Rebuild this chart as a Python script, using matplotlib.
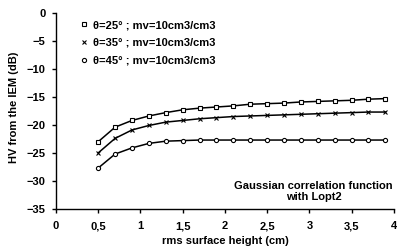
import matplotlib

matplotlib.use("Agg")
from matplotlib import pyplot as plt
from matplotlib.ticker import FuncFormatter

rms_height = [0.5, 0.7, 0.9, 1.1, 1.3, 1.5, 1.7, 1.9, 2.1, 2.3,
              2.5, 2.7, 2.9, 3.1, 3.3, 3.5, 3.7, 3.9]
hv_25 = [-23.0, -20.4, -19.2, -18.4, -17.8, -17.3, -17.0, -16.8, -16.6, -16.3,
         -16.2, -16.1, -15.9, -15.8, -15.7, -15.6, -15.4, -15.3]
hv_35 = [-25.0, -22.4, -20.9, -20.1, -19.5, -19.2, -18.9, -18.7, -18.5, -18.4,
         -18.3, -18.2, -18.1, -18.0, -17.9, -17.8, -17.7, -17.7]
hv_45 = [-27.7, -25.2, -24.1, -23.3, -22.9, -22.8, -22.7, -22.7, -22.7, -22.7,
         -22.7, -22.7, -22.7, -22.7, -22.7, -22.7, -22.7, -22.7]
labels = ["θ=25° ; mv=10cm3/cm3", "θ=35° ; mv=10cm3/cm3", "θ=45° ; mv=10cm3/cm3"]

plt.rcParams["font.family"] = ["Liberation Sans", "DejaVu Sans"]
plt.rcParams["font.weight"] = "bold"
plt.rcParams["font.size"] = 8

fig = plt.figure(figsize=(3.97, 2.49), dpi=100)
ax = fig.add_axes([0.141, 0.161, 0.851, 0.787])

styles = [("s", hv_25), ("x", hv_35), ("o", hv_45)]
for (marker, values), label in zip(styles, labels):
    ax.plot(rms_height, values, color="black", lw=1.1)
    ax.plot(rms_height, values, ls="none", marker=marker, ms=3.0, mew=0.8,
            mfc="white", mec="black", label=label)

ax.set_xlim(0, 4)
ax.set_ylim(-35, 0)
ax.set_xticks([0, 0.5, 1, 1.5, 2, 2.5, 3, 3.5, 4])
ax.set_yticks(range(-35, 1, 5))
ax.xaxis.set_major_formatter(FuncFormatter(lambda v, p: f"{v:g}".replace(".", ",")))
ax.spines["top"].set_visible(False)
ax.spines["right"].set_visible(False)
for side in ("left", "bottom"):
    ax.spines[side].set_linewidth(1.0)
ax.tick_params(direction="out", length=3, width=1.0)
ax.tick_params(axis="x", pad=6)
ax.tick_params(axis="y", pad=4.5)

ax.set_xlabel("rms surface height (cm)", fontweight="bold", labelpad=3)
ax.set_ylabel("HV from the IEM (dB)", fontweight="bold")
ax.yaxis.set_label_coords(-0.108, 0.52)

ax.legend(loc="upper left", bbox_to_anchor=(0.06, 0.985), frameon=False,
          borderaxespad=0, handlelength=0.6, handletextpad=0.5, labelspacing=0.68,
          prop={"weight": "bold", "size": 8})

ax.text(0.762, 0.088, "Gaussian correlation function\nwith Lopt2",
        transform=ax.transAxes, ha="center", va="center",
        fontweight="bold", fontsize=8, linespacing=1.2)

fig.savefig("out.png", dpi=100)
plt.close(fig)
